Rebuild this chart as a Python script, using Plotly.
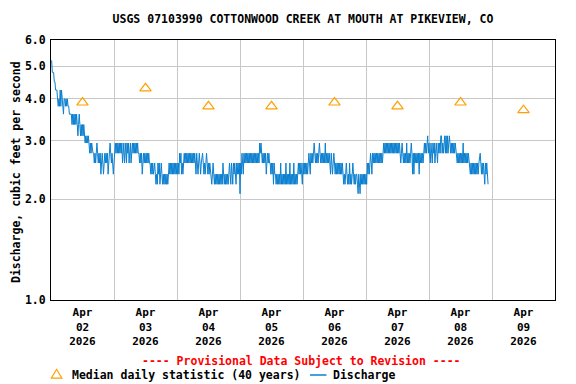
import math
import pandas as pd
import plotly.graph_objects as go

TITLE = "USGS 07103990 COTTONWOOD CREEK AT MOUTH AT PIKEVIEW, CO"
Y_TITLE = "Discharge, cubic feet per second"
NOTE = "---- Provisional Data Subject to Revision ----"
LEGEND_MEDIAN = "Median daily statistic (40 years)"
LEGEND_Q = "Discharge"

# Discharge levels (cfs), coded by letter
LEVEL_CODES = "ABCDEFGHIJKLMNO"
LEVEL_VALUES = [5.2, 4.8, 4.5, 4.25, 4.0, 3.8, 3.6, 3.35, 3.1, 2.95, 2.75, 2.57, 2.38, 2.22, 2.08]

# 15-minute discharge readings per day (one letter per reading), starting at midnight
DAY_STARTS = ["2026-04-02", "2026-04-03", "2026-04-04", "2026-04-05",
              "2026-04-06", "2026-04-07", "2026-04-08"]
DAY_READINGS = [
    "AABBBCCDDD EFEF DFDEF GE EFE FEF FG GG GHGHGHGHG HIHG HIHIHIH IJIJIJI JKJKJKK "
    "KLKLKJKLKLKMLKLMLKLKLKMLKJKLKLM",
    "LKJK JKJKJKJK JLKJLKJL JKJLKJLKJKJKJKJKJK KLKLKMLKL KLKLKLKL LMLMLML "
    "LMNMNLMLNMLMNMNMNMNMNMLM LMLMLMLMLM",
    "LMLMKLKM LMLKL KLKLKLKLKLKLKLK LMKLMLKLMLK KLMLMLKLMLMLMM "
    "NMLMNMNMNMNMNMNMNLMNMNMNMNMLMNLMN LMLMNLMLML",
    "O LMKLMKL KLKLKLKLKLKLKLKLKLKLKL JKJ KLKLKLKMLKLKL LMLMLNLM "
    "MNMNMNMNLNMNMNMNLNMNMNLNMNMNLNMNMNMLMLMLMN",
    "LMLMLMLMLKLM KLKLKJKLKLKLKJKLKLKLKLJLKLKL KLMKLMLK LMLMLMLMLMLML "
    "MNMNMLMNMNLNMNMLMNMNM MNOMNOMNMNMNMN",
    "MNLMLMLKLMKL KLKLKLKLKLKLKLK JKJKJKJKJKJKJKJKJKJKJKJKJ KLKJKLKLKLJLKLKLKJ "
    "KMKMKLKLKLKMKLKL KLKJKJKJIK",
    "JKLJKLJKJLKJKLJK JKIIKJKJIKIKIK JIJKJKJKJKJK KLKLKLKLKLJLKLKLKLKL "
    "LMLMLMLMLMLMLMLK KLMLMLMNLMLMN",
]

# Median daily statistic (40 years)
MEDIAN_DATES = ["2026-04-02 12:00", "2026-04-03 12:00", "2026-04-04 12:00", "2026-04-05 12:00",
                "2026-04-06 12:00", "2026-04-07 12:00", "2026-04-08 12:00", "2026-04-09 12:00"]
MEDIAN_VALUES = [3.9, 4.3, 3.8, 3.8, 3.9, 3.8, 3.9, 3.7]

TICK_TEXT = ["Apr<br>02<br>2026", "Apr<br>03<br>2026", "Apr<br>04<br>2026", "Apr<br>05<br>2026",
             "Apr<br>06<br>2026", "Apr<br>07<br>2026", "Apr<br>08<br>2026", "Apr<br>09<br>2026"]
DAY_LINES = ["2026-04-03", "2026-04-04", "2026-04-05", "2026-04-06",
             "2026-04-07", "2026-04-08", "2026-04-09"]
Y_TICKS = [1, 2, 3, 4, 5, 6]
Y_TICK_TEXT = ["1.0", "2.0", "3.0", "4.0", "5.0", "6.0"]

lookup = dict(zip(LEVEL_CODES, LEVEL_VALUES))
times, values = [], []
for start, codes in zip(DAY_STARTS, DAY_READINGS):
    codes = codes.replace(" ", "")
    t0 = pd.Timestamp(start)
    for i, c in enumerate(codes):
        times.append(t0 + pd.Timedelta(minutes=15 * i))
        values.append(lookup[c])

FONT = "DejaVu Sans Mono"
BLUE = "#0a7fd0"
ORANGE = "#ffa000"
GRID = "#c8c8c8"

# page body has an 8px margin, so the figure is 8px smaller than the window
W, H = 568, 376
ML, MR, MT, MB = 43, 21, 32, 84
PW, PH = W - ML - MR, H - MT - MB


def px(sx):  # screen x -> paper x
    return (sx - 8 - ML) / PW


def py(sy):  # screen y -> paper y
    return (H - MB - (sy - 8)) / PH


fig = go.Figure()
fig.add_trace(go.Scatter(
    x=MEDIAN_DATES, y=MEDIAN_VALUES, mode="markers", name=LEGEND_MEDIAN, showlegend=False,
    marker=dict(symbol="triangle-up-open", size=10, color=ORANGE, line=dict(width=1.2, color=ORANGE)),
))
fig.add_trace(go.Scatter(
    x=times, y=values, mode="lines", name=LEGEND_Q, showlegend=False,
    line=dict(color=BLUE, width=1),
))

txt = dict(family=FONT, size=11.5, color="black", weight="bold")

# legend keys and texts
shapes = [
    dict(type="path", xref="paper", yref="paper",
         path=f"M {px(51.3)},{py(378.2)} L {px(61.9)},{py(378.2)} L {px(56.6)},{py(369.3)} Z",
         line=dict(color=ORANGE, width=1.2), fillcolor="rgba(0,0,0,0)"),
    dict(type="line", xref="paper", yref="paper", x0=px(310), x1=px(326.5), y0=py(375), y1=py(375),
         line=dict(color=BLUE, width=1.5)),
]
annotations = [
    dict(text=Y_TITLE, xref="paper", yref="paper", x=px(15.5), y=py(172.5), textangle=-90,
         showarrow=False, xanchor="center", yanchor="middle", borderpad=0, font=txt),
    dict(text=NOTE, xref="paper", yref="paper", x=px(301.5), y=py(361),
         showarrow=False, xanchor="center", yanchor="middle",
         font=dict(family=FONT, size=11.5, color="#ff0000", weight="bold")),
    dict(text=LEGEND_MEDIAN, xref="paper", yref="paper", x=px(69.5), y=py(375),
         showarrow=False, xanchor="left", yanchor="middle", font=txt),
    dict(text=LEGEND_Q, xref="paper", yref="paper", x=px(330.5), y=py(375),
         showarrow=False, xanchor="left", yanchor="middle", font=txt),
]

fig.update_layout(
    width=W, height=H,
    margin=dict(l=ML, r=MR, t=MT, b=MB, autoexpand=False),
    paper_bgcolor="white", plot_bgcolor="white",
    font=txt,
    title=dict(text=TITLE, x=(303 - 8) / W, xanchor="center", y=1 - (19 - 8) / H, yanchor="middle",
               font=txt),
    showlegend=False,
    shapes=shapes,
    annotations=annotations,
)

fig.update_xaxes(
    type="date", range=["2026-04-02", "2026-04-10"], automargin=False,
    tickmode="array", tickvals=MEDIAN_DATES, ticktext=TICK_TEXT,
    showgrid=False, ticks="", ticklabelstandoff=2,
    tickfont=dict(family=FONT, size=11, color="black", weight="bold"),
    minor=dict(tickmode="array", tickvals=DAY_LINES, showgrid=True, gridcolor=GRID, gridwidth=1, ticks=""),
    showline=True, linecolor="black", linewidth=1, mirror=True, zeroline=False,
)
fig.update_yaxes(
    type="log", range=[0, math.log10(6)], automargin=False,
    tickmode="array", tickvals=Y_TICKS, ticktext=Y_TICK_TEXT,
    showgrid=True, gridcolor=GRID, gridwidth=1, ticks="", ticklabelstandoff=2,
    tickfont=txt,
    showline=True, linecolor="black", linewidth=1, mirror=True, zeroline=False,
)

fig.write_html("out.html")
